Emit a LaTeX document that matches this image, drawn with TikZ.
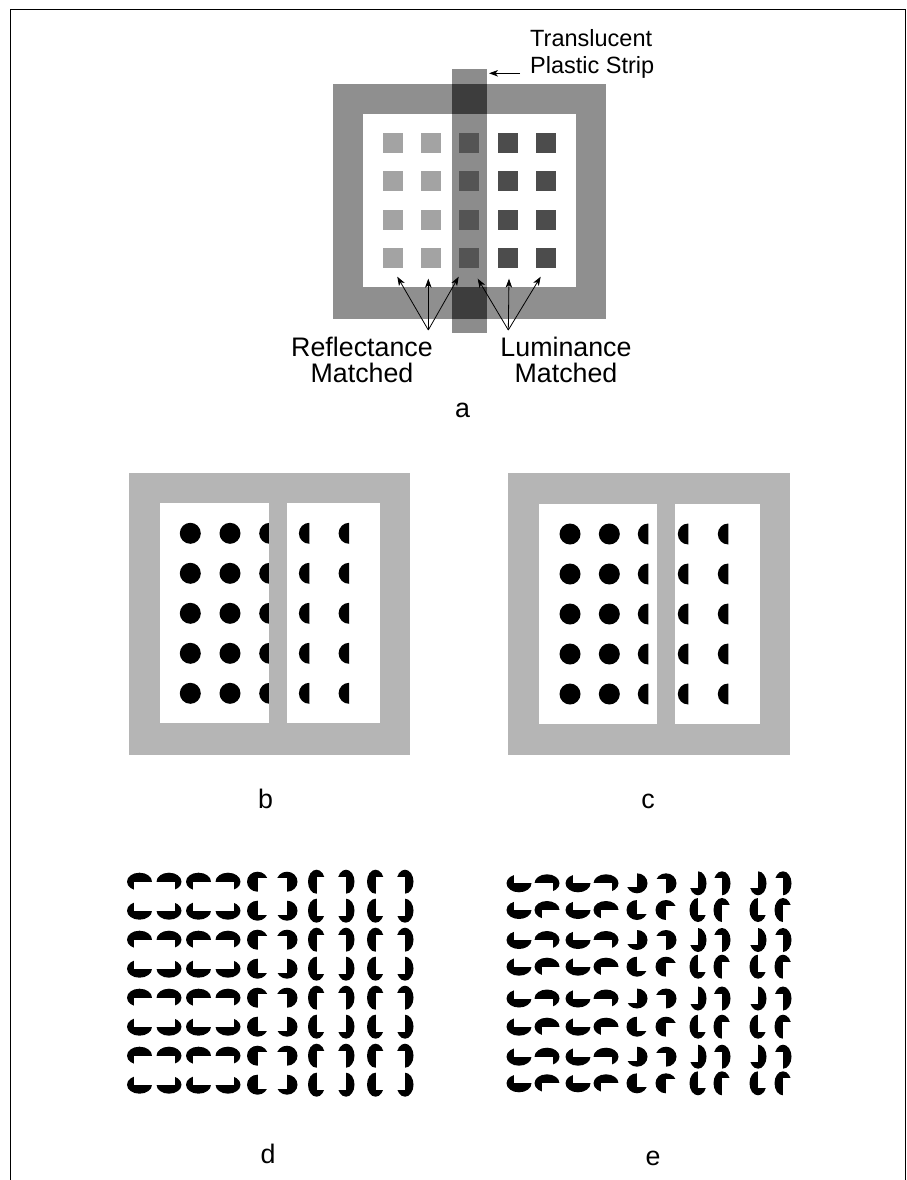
\documentclass[tikz,border=0pt]{standalone}
\usepackage{fontspec}
\setmainfont{Liberation Sans}
\usetikzlibrary{arrows.meta}
\begin{document}
\begin{tikzpicture}[x=1pt,y=-1pt]
    % Local definitions
    % \inducer{cx}{cy}{rx}{ry}{ox}{oy}{sx}{sy}: black ellipse with a white notch
    \def\inducer#1#2#3#4#5#6#7#8{%
        \fill (#1,#2) ellipse [x radius=#3pt, y radius=#4pt];
        \fill[white] ({#1-(#7)*(#5)},{#2-(#8)*(#6)})
            rectangle ({#1+(#7)*(#3+2)},{#2+(#8)*(#4+2)});
    }

    % Styles
    \tikzstyle{label text} = [font=\fontsize{26.8}{26.5}\selectfont, inner sep=0pt, align=center]
    \tikzstyle{pointer} = [line width=0.8pt, -{Stealth[length=9pt,width=6.5pt,inset=2.5pt]}]

    % Colors
    \definecolor{frame gray}{gray}{0.56}
    \definecolor{strip gray}{gray}{0.55}
    \definecolor{strip dark}{gray}{0.24}
    \definecolor{light square}{gray}{0.64}
    \definecolor{strip square}{gray}{0.33}
    \definecolor{dark square}{gray}{0.30}
    \definecolor{surround}{gray}{0.71}

    \useasboundingbox (0,0) rectangle (907,1180);

    %%% Page frame
    \draw[line width=1.2pt] (10.8,1180) -- (10.8,9.5) -- (905.3,9.5) -- (905.3,1180);
    %%%

    %%% Panel a
    \fill[frame gray] (332.7,84) rectangle (606,319);
    \fill[white] (363.3,114) rectangle (575.7,287);
    \fill[strip gray] (452,69) rectangle (486.5,332.7);
    \fill[strip dark] (452,84) rectangle (486.5,114);
    \fill[strip dark] (452,287) rectangle (486.5,319);

    \foreach \x/\c in {392.5/light square, 431/light square, 469/strip square,
                       507.7/dark square, 546/dark square}
        \foreach \y in {142.7, 181.3, 219.7, 258.3}
        {
            \fill[\c] (\x-10,\y-10) rectangle ++(20,20);
        }

    % base of a two-line node is the base of its last line
    \node[label text, anchor=base west, align=left, font=\fontsize{23.5}{27.3}\selectfont]
        (strip label) at (530,74) {Translucent\\Plastic Strip};
    \coordinate (strip tail) at (520,73.3);
    \coordinate (strip tip) at (489,73.3);
    \draw[pointer] (strip tail) -- (strip tip);

    \node[label text, anchor=base] (refl label) at (362,382.5) {Reflectance\\Matched};
    \node[label text, anchor=base] (lum label) at (566,382.5) {Luminance\\Matched};
    \coordinate (refl top) at (428.3,330);
    \coordinate (lum top) at (508.3,330);

    \coordinate (refl tip 1) at (397.3,276.7);
    \coordinate (refl tip 2) at (428.3,278.7);
    \coordinate (refl tip 3) at (458.7,276.7);
    \coordinate (lum tip 1) at (477.7,278.7);
    \coordinate (lum tip 2) at (509,278.7);
    \coordinate (lum tip 3) at (540.7,276.7);
    \foreach \n in {1,2,3}
    {
        \draw[pointer] (refl top) -- (refl tip \n);
        \draw[pointer] (lum top) -- (lum tip \n);
    }

    \node[label text, anchor=base] (label a) at (462.5,417) {a};
    %%%

    %%% Panel b
    \fill[surround] (129.3,472.7) rectangle (410,755);
    \fill[white] (160,503.3) rectangle (269,723.3);
    \fill[white] (287.3,503.3) rectangle (380,723.3);
    \foreach \y in {533.3, 573.3, 613.3, 653.3, 693.3}
    {
        \foreach \x in {190.3, 230, 269.7}
            \fill (\x,\y) circle [radius=10.5pt];
        \foreach \x in {309.4, 349.1}
            \fill (\x,\y) ++(90:10.5pt) arc [start angle=90, end angle=270, radius=10.5pt] -- cycle;
    }
    % divider hides the third column
    \fill[surround] (269,503.3) rectangle (287.3,723.3);

    \node[label text, anchor=base] (label b) at (265.5,808) {b};
    %%%

    %%% Panel c
    \fill[surround] (508.3,473.3) rectangle (790,755);
    \fill[white] (539.3,504.3) rectangle (656.7,724);
    \fill[white] (675,504.3) rectangle (760,724);
    \foreach \y in {534, 574, 614, 654, 694}
    {
        \foreach \x in {570, 609.3}
            \fill (\x,\y) circle [radius=10.5pt];
        \foreach \x in {648.3, 688.3, 728.3}
            \fill (\x,\y) ++(90:10.5pt) arc [start angle=90, end angle=270, radius=10.5pt] -- cycle;
    }

    \node[label text, anchor=base] (label c) at (648,808) {c};
    %%%

    %%% Panel d
    \foreach \cx/\rx/\ry/\ox/\oy/\sx in {139.5/12.5/9/5.5/0/1, 169/12.5/9/5.5/0/-1,
            198.5/12.5/9/5.5/0/1, 228/12.5/9/5.5/0/-1, 257.5/10.5/10/0/4/1,
            287/10.5/10/0/4/-1, 316.5/8.5/12/0/5/1, 346/8.5/12/0/5/-1,
            375.5/8.5/12/0/5/1, 405/8.5/12/0/5/-1}
        \foreach \cy/\sy in {881.7/1, 910.7/-1, 939.7/1, 968.7/-1,
                             997.7/1, 1026.7/-1, 1055.7/1, 1084.7/-1}
        {
            \inducer{\cx}{\cy}{\rx}{\ry}{\ox}{\oy}{\sx}{\sy}
        }

    \node[label text, anchor=base] (label d) at (268,1163) {d};
    %%%

    %%% Panel e
    \foreach \cx/\rx/\ry/\ox/\oy/\ax/\ay/\bx/\by in {
            519/12.5/9/5.5/0/1/-1/1/-1, 547/12.5/9/5.5/0/-1/1/1/1,
            578/12.5/9/5.5/0/1/-1/1/-1, 606/12.5/9/5.5/0/-1/1/1/1,
            637/10.5/10/0/4/-1/-1/1/-1, 666/10.5/10/0/4/-1/1/1/1,
            698/8.5/12/0/5/-1/-1/1/-1, 722/8.5/12/0/5/-1/1/1/1,
            758/8.5/12/0/5/-1/-1/1/-1, 783/8.5/12/0/5/-1/1/1/1}
        \foreach \cy/\odd in {883.3/1, 910/0, 940/1, 966.7/0,
                              998.5/1, 1026.7/0, 1056.7/1, 1083.3/0}
        {
            \ifnum\odd=1
                \inducer{\cx}{\cy}{\rx}{\ry}{\ox}{\oy}{\ax}{\ay}
            \else
                \inducer{\cx}{\cy}{\rx}{\ry}{\ox}{\oy}{\bx}{\by}
            \fi
        }

    \node[label text, anchor=base] (label e) at (653,1165) {e};
    %%%
\end{tikzpicture}
\end{document}
